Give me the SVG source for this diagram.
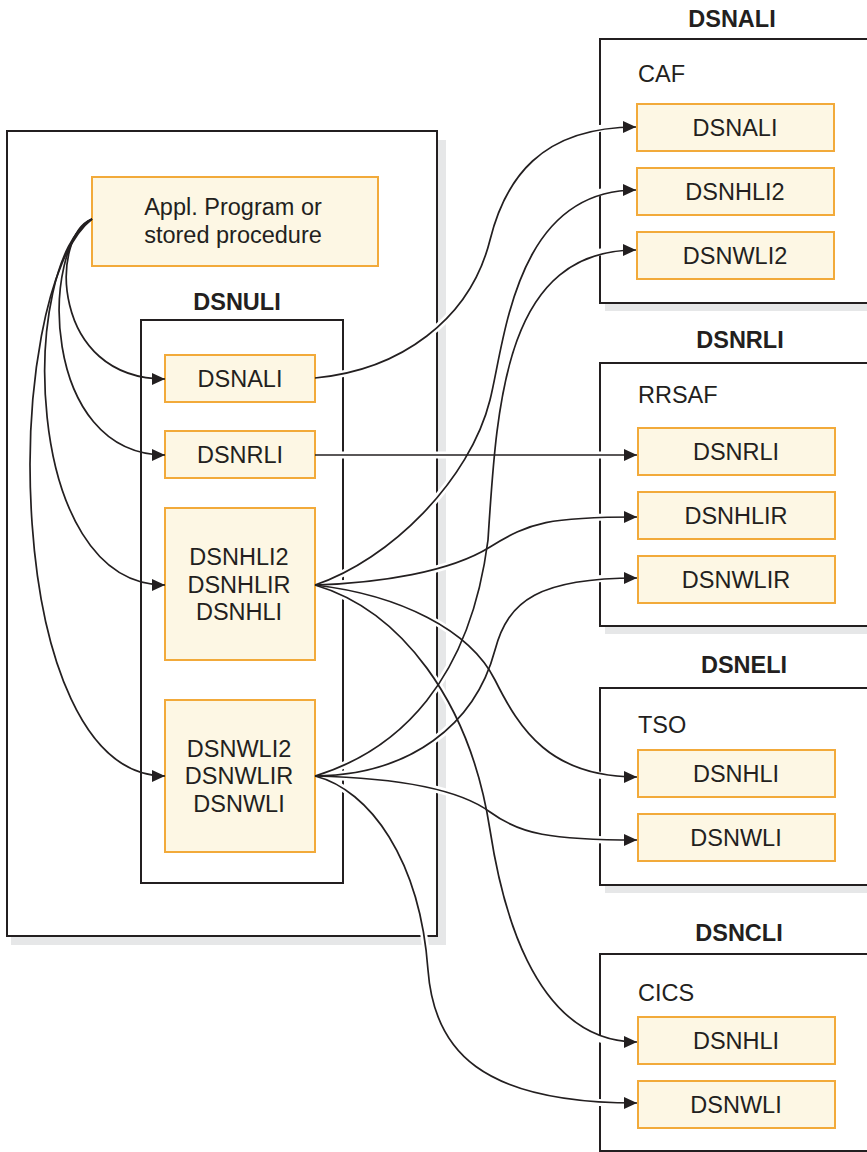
<svg xmlns="http://www.w3.org/2000/svg" width="867" height="1152" viewBox="0 0 867 1152">
<style>
.shadow{fill:#e6e7e8;stroke:none}
.frame{fill:#fff;stroke:#231f20;stroke-width:2}
.box{fill:#fdf7e4;stroke:#f2aa3a;stroke-width:2}
.t{font-family:"Liberation Sans",Arial,sans-serif;font-size:23.5px;fill:#231f20}
.c{text-anchor:middle}
.b{font-weight:bold}
.halo{fill:none;stroke:#fff;stroke-width:7}
.line{fill:none;stroke:#231f20;stroke-width:1.7;marker-end:url(#arr)}
</style>
<defs>
<marker id="arr" markerUnits="userSpaceOnUse" markerWidth="14" markerHeight="12" refX="13" refY="6" orient="auto">
<path d="M0,0 L13,6 L0,12 Z" fill="#231f20"/>
</marker>
</defs>

<g id="containers">
<g id="app-region">
<rect class="shadow" x="11" y="140" width="435" height="805"/>
<rect class="frame" x="7" y="131" width="430" height="805"/>
</g>
<g id="dsnuli">
<text class="t c b" x="237" y="310">DSNULI</text>
<rect class="frame" x="141" y="320" width="202" height="563"/>
</g>
<g id="dsnali-region">
<text class="t c b" x="732" y="27">DSNALI</text>
<rect class="shadow" x="605" y="48" width="300" height="263"/>
<rect class="frame" x="600" y="39" width="300" height="264"/>
<text class="t" x="638" y="82">CAF</text>
</g>
<g id="dsnrli-region">
<text class="t c b" x="740" y="348">DSNRLI</text>
<rect class="shadow" x="605" y="372" width="300" height="262"/>
<rect class="frame" x="600" y="363" width="300" height="263"/>
<text class="t" x="638" y="403">RRSAF</text>
</g>
<g id="dsneli-region">
<text class="t c b" x="744" y="673">DSNELI</text>
<rect class="shadow" x="605" y="697" width="300" height="196"/>
<rect class="frame" x="600" y="688" width="300" height="197"/>
<text class="t" x="638" y="733">TSO</text>
</g>
<g id="dsncli-region">
<text class="t c b" x="739" y="941">DSNCLI</text>
<rect class="frame" x="600" y="954" width="300" height="197"/>
<text class="t" x="638" y="1001">CICS</text>
</g>
</g>

<g id="connector-halos">
<path class="halo" d="M315,378 C400,370 470,320 490,240 C505,180 540,127 622,127"/>
<path class="halo" d="M315,455 L622,455"/>
<path class="halo" d="M315,585 C390,560 470,480 490,400 C505,340 515,190 622,190"/>
<path class="halo" d="M315,585 C380,583 450,572 490,547 C530,522 550,517 622,517"/>
<path class="halo" d="M315,585 C400,595 470,630 495,680 C520,730 550,777 622,777"/>
<path class="halo" d="M315,585 C400,610 470,700 490,830 C500,895 530,1042 622,1042"/>
<path class="halo" d="M315,776 C400,750 470,680 488,540 C497,400 505,250 622,250"/>
<path class="halo" d="M315,776 C410,775 475,725 495,650 C508,600 540,578 622,578"/>
<path class="halo" d="M315,776 C400,778 460,790 490,812 C520,834 550,840 622,840"/>
<path class="halo" d="M315,776 C370,790 420,860 428,970 C434,1050 480,1103 622,1103"/>
</g>

<g id="appl-program">
<rect class="box" x="92" y="177" width="286" height="89"/>
<text class="t c" x="233" y="215">Appl. Program or</text>
<text class="t c" x="233" y="243">stored procedure</text>
</g>
<g id="uli-dsnali">
<rect class="box" x="165" y="355" width="150" height="47"/>
<text class="t c" x="240" y="387">DSNALI</text>
</g>
<g id="uli-dsnrli">
<rect class="box" x="165" y="431" width="150" height="47"/>
<text class="t c" x="240" y="463">DSNRLI</text>
</g>
<g id="uli-dsnhli">
<rect class="box" x="165" y="508" width="150" height="152"/>
<text class="t c" x="239" y="565">DSNHLI2</text>
<text class="t c" x="239" y="593">DSNHLIR</text>
<text class="t c" x="239" y="620">DSNHLI</text>
</g>
<g id="uli-dsnwli">
<rect class="box" x="165" y="700" width="150" height="152"/>
<text class="t c" x="239" y="757">DSNWLI2</text>
<text class="t c" x="239" y="784">DSNWLIR</text>
<text class="t c" x="239" y="812">DSNWLI</text>
</g>
<g id="caf-dsnali">
<rect class="box" x="637" y="104" width="197" height="47"/>
<text class="t c" x="735" y="136">DSNALI</text>
</g>
<g id="caf-dsnhli2">
<rect class="box" x="637" y="168" width="197" height="47"/>
<text class="t c" x="735" y="200">DSNHLI2</text>
</g>
<g id="caf-dsnwli2">
<rect class="box" x="637" y="232" width="197" height="47"/>
<text class="t c" x="735" y="264">DSNWLI2</text>
</g>
<g id="rrsaf-dsnrli">
<rect class="box" x="638" y="428" width="197" height="47"/>
<text class="t c" x="736" y="460">DSNRLI</text>
</g>
<g id="rrsaf-dsnhlir">
<rect class="box" x="638" y="492" width="197" height="47"/>
<text class="t c" x="736" y="524">DSNHLIR</text>
</g>
<g id="rrsaf-dsnwlir">
<rect class="box" x="638" y="556" width="197" height="47"/>
<text class="t c" x="736" y="588">DSNWLIR</text>
</g>
<g id="tso-dsnhli">
<rect class="box" x="638" y="750" width="197" height="47"/>
<text class="t c" x="736" y="782">DSNHLI</text>
</g>
<g id="tso-dsnwli">
<rect class="box" x="638" y="814" width="197" height="47"/>
<text class="t c" x="736" y="846">DSNWLI</text>
</g>
<g id="cics-dsnhli">
<rect class="box" x="638" y="1017" width="197" height="47"/>
<text class="t c" x="736" y="1049">DSNHLI</text>
</g>
<g id="cics-dsnwli">
<rect class="box" x="638" y="1081" width="197" height="47"/>
<text class="t c" x="736" y="1113">DSNWLI</text>
</g>

<g id="connectors">
<path class="line" d="M92,219 C50,235 50,379 165,379"/>
<path class="line" d="M92,219 C40,245 40,455 165,455"/>
<path class="line" d="M92,219 C20,260 20,585 165,585"/>
<path class="line" d="M92,219 C0,290 0,776 165,776"/>
<path class="line" d="M315,378 C400,370 470,320 490,240 C505,180 540,127 636,127"/>
<path class="line" d="M315,455 L637,455"/>
<path class="line" d="M315,585 C390,560 470,480 490,400 C505,340 515,190 636,190"/>
<path class="line" d="M315,585 C380,583 450,572 490,547 C530,522 550,517 637,517"/>
<path class="line" d="M315,585 C400,595 470,630 495,680 C520,730 550,777 637,777"/>
<path class="line" d="M315,585 C400,610 470,700 490,830 C500,895 530,1042 637,1042"/>
<path class="line" d="M315,776 C400,750 470,680 488,540 C497,400 505,250 636,250"/>
<path class="line" d="M315,776 C410,775 475,725 495,650 C508,600 540,578 637,578"/>
<path class="line" d="M315,776 C400,778 460,790 490,812 C520,834 550,840 637,840"/>
<path class="line" d="M315,776 C370,790 420,860 428,970 C434,1050 480,1103 637,1103"/>
</g>
</svg>
